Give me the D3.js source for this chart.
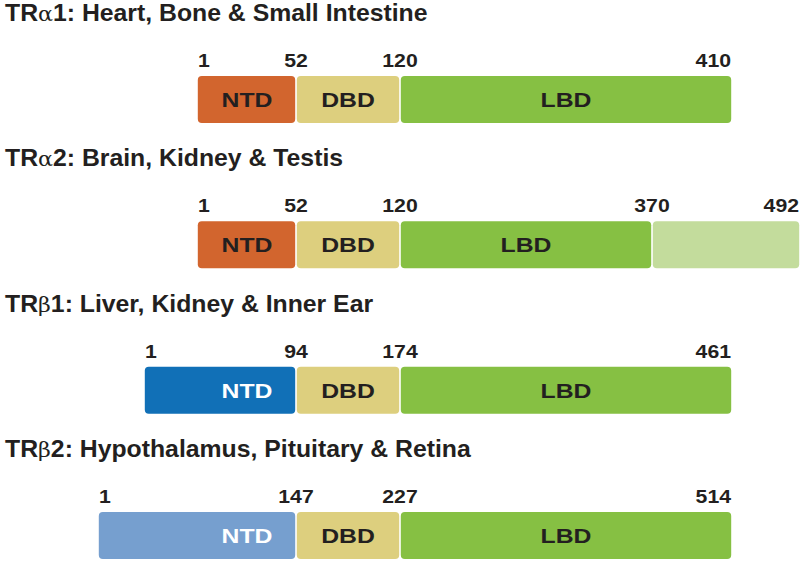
<!DOCTYPE html>
<html>
<head>
<meta charset="utf-8">
<script src="https://cdn.jsdelivr.net/npm/d3@7"></script>
<style>
  html, body { margin: 0; padding: 0; background: #fff; }
  svg { display: block; }
</style>
</head>
<body>
<svg id="chart" width="800" height="561"></svg>
<script>
// ---------------- DATA ----------------
const isoforms = ["TRα1", "TRα2", "TRβ1", "TRβ2"];
const greek = ["α", "α", "β", "β"];
const isoNumber = ["1", "2", "1", "2"];
const tissues = [
  "Heart, Bone & Small Intestine",
  "Brain, Kidney & Testis",
  "Liver, Kidney & Inner Ear",
  "Hypothalamus, Pituitary & Retina"
];
// residue numbers at domain boundaries
const boundaries = [
  [1, 52, 120, 410],
  [1, 52, 120, 370, 492],
  [1, 94, 174, 461],
  [1, 147, 227, 514]
];
const domainNames = [
  ["NTD", "DBD", "LBD"],
  ["NTD", "DBD", "LBD", ""],
  ["NTD", "DBD", "LBD"],
  ["NTD", "DBD", "LBD"]
];

// ---------------- LAYOUT / STYLE ----------------
// schematic (not to scale) pixel positions of each boundary, per row
const schematicX = [
  [197, 296, 400, 732],
  [197, 296, 400, 652, 800],
  [144, 296, 400, 732],
  [98, 296, 400, 732]
];
const boxH = 47;
const segFill = [
  ["#D2652E", "#DDCF7E", "#86C043"],
  ["#D2652E", "#DDCF7E", "#86C043", "#C3DC9C"],
  ["#1170B7", "#DDCF7E", "#86C043"],
  ["#769FCF", "#DDCF7E", "#86C043"]
];
const segText = [
  ["#231F20", "#231F20", "#231F20"],
  ["#231F20", "#231F20", "#231F20", "#231F20"],
  ["#FFFFFF", "#231F20", "#231F20"],
  ["#FFFFFF", "#231F20", "#231F20"]
];
const FONT = "'Liberation Sans', Arial, Helvetica, sans-serif";
const SX = 1.18;       // horizontal stretch of the small lettering
const SX_TITLE = 1.055; // horizontal stretch of the titles

const svg = d3.select("#chart");

// vertical position of each row's box
const y = d3.scalePoint().domain(isoforms).range([76, 512]);

isoforms.forEach((iso, i) => {
  const b = boundaries[i];
  const x = d3.scaleLinear().domain(b).range(schematicX[i]);
  const top = y(iso);
  const g = svg.append("g");

  // title
  const t = g.append("text")
    .attr("transform", `translate(5,${top - 55}) scale(${SX_TITLE},1)`)
    .attr("font-family", FONT).attr("font-size", 23.5).attr("font-weight", "bold")
    .attr("fill", "#231F20");
  t.append("tspan").text("TR");
  t.append("tspan").attr("font-weight", "normal").attr("font-family", "'DejaVu Serif', serif").attr("font-size", 21).text(greek[i]);
  t.append("tspan").text(isoNumber[i] + ": " + tissues[i]);

  // segments
  const segs = d3.range(b.length - 1).map(k => ({
    k, start: b[k], end: b[k + 1], name: domainNames[i][k],
    fill: segFill[i][k], tcol: segText[i][k]
  }));

  g.selectAll("rect.seg").data(segs).join("rect")
    .attr("class", "seg")
    .attr("x", d => x(d.start) + 0.8)
    .attr("y", top)
    .attr("width", d => Math.max(0, x(d.end) - x(d.start) - 1.6))
    .attr("height", boxH)
    .attr("rx", 4).attr("ry", 4)
    .attr("fill", d => d.fill);

  g.selectAll("text.seglab").data(segs.filter(d => d.name)).join("text")
    .attr("class", "seglab")
    .attr("transform", d => {
      const cx = d.k === 0 ? x(d.end) - 49 : (x(d.start) + x(d.end)) / 2;
      return `translate(${cx},${top + boxH / 2 + 7.5}) scale(${SX},1)`;
    })
    .attr("text-anchor", "middle")
    .attr("font-family", FONT).attr("font-size", 21).attr("font-weight", "bold")
    .attr("fill", d => d.tcol)
    .text(d => d.name);

  // boundary residue numbers
  g.selectAll("text.num").data(b).join("text")
    .attr("class", "num")
    .attr("transform", (d, j) => {
      const px = j === 0 ? x(d) + 1 : (j === b.length - 1 ? x(d) - 1 : x(d));
      return `translate(${px},${top - 9}) scale(${SX},1)`;
    })
    .attr("text-anchor", (d, j) => j === 0 ? "start" : (j === b.length - 1 ? "end" : "middle"))
    .attr("font-family", FONT).attr("font-size", 18).attr("font-weight", "bold")
    .attr("fill", "#231F20")
    .text(d => d);
});
</script>
</body>
</html>
